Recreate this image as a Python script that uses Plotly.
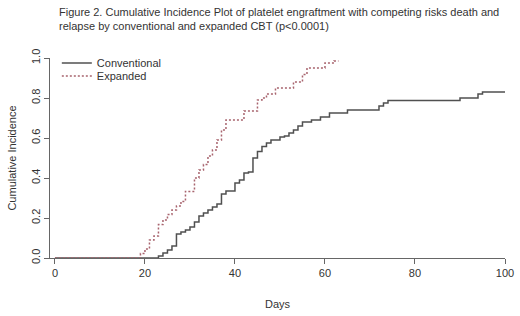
import plotly.graph_objects as go

conv_days = [0, 23, 24, 25, 26, 27, 28, 29, 30, 31, 32, 33, 34, 35, 36, 37, 38, 40, 41, 42, 43, 44, 45, 46, 47, 48, 50, 51, 52, 53, 54, 55, 57, 59, 61, 65, 72, 73, 74, 90, 94, 95, 100]
conv_vals = [0, 0.01, 0.025, 0.04, 0.06, 0.12, 0.13, 0.14, 0.155, 0.18, 0.21, 0.225, 0.24, 0.255, 0.27, 0.32, 0.335, 0.375, 0.39, 0.425, 0.43, 0.5, 0.533, 0.558, 0.575, 0.59, 0.605, 0.61, 0.625, 0.64, 0.66, 0.68, 0.69, 0.705, 0.725, 0.74, 0.76, 0.775, 0.787, 0.80, 0.82, 0.83, 0.83]

exp_days = [0, 19, 20, 21, 22, 23, 24, 25, 26, 27, 28, 29, 31, 32, 33, 34, 35, 36, 37, 38, 42, 45, 46, 47, 49, 53, 55, 56, 60, 62, 63]
exp_vals = [0, 0.022, 0.045, 0.09, 0.11, 0.167, 0.19, 0.217, 0.24, 0.26, 0.283, 0.333, 0.40, 0.44, 0.467, 0.51, 0.54, 0.59, 0.64, 0.69, 0.735, 0.79, 0.80, 0.82, 0.85, 0.88, 0.917, 0.95, 0.975, 0.985, 0.985]

x_ticks = [0, 20, 40, 60, 80, 100]
y_ticks = [0.0, 0.2, 0.4, 0.6, 0.8, 1.0]

title_lines = ["Figure 2. Cumulative Incidence Plot of platelet engraftment with competing risks death and",
               "relapse by conventional and expanded CBT (p<0.0001)"]

fig = go.Figure()
fig.add_trace(go.Scatter(x=conv_days, y=conv_vals, mode="lines", line_shape="hv",
                         name="Conventional", legend="legend",
                         line=dict(color="#505050", width=1.5)))
fig.add_trace(go.Scatter(x=exp_days, y=exp_vals, mode="lines", line_shape="hv",
                         name="Expanded", legend="legend2",
                         line=dict(color="#a8646e", width=1.5, dash="2px,2px")))

font = "Liberation Sans, Arial, sans-serif"
fig.add_annotation(text="<br>".join(title_lines), xref="paper", yref="paper",
                   x=(57 - 50) / 455, y=1 + (58 - 4) / 200, xanchor="left", yanchor="top",
                   align="left", showarrow=False,
                   font=dict(family=font, size=11, color="#333"))

leg_common = dict(xanchor="left", yanchor="middle", bgcolor="rgba(0,0,0,0)",
                  font=dict(size=11, color="#333"), itemwidth=30)
fig.update_layout(
    width=520, height=316,
    margin=dict(l=50, r=15, t=58, b=58, autoexpand=False),
    paper_bgcolor="white", plot_bgcolor="white",
    font=dict(family=font, size=11, color="#333"),
    showlegend=True,
    legend=dict(x=0.015, y=(258 - 63) / 200, **leg_common),
    legend2=dict(x=0.015, y=(258 - 76) / 200, **leg_common),
    xaxis=dict(range=[-1.1, 100], tickvals=x_ticks, ticktext=[str(v) for v in x_ticks],
               showgrid=False, zeroline=False, showline=True, linecolor="#666", linewidth=1,
               ticks="outside", ticklen=5, tickcolor="#666", automargin=False,
               title=dict(text="Days", standoff=22, font=dict(size=11)), tickfont=dict(size=11)),
    yaxis=dict(range=[0, 1.0], tickvals=y_ticks, ticktext=["%.1f" % v for v in y_ticks],
               showgrid=False, zeroline=False, showline=True, linecolor="#666", linewidth=1,
               ticks="outside", ticklen=5, tickcolor="#666", tickangle=-90, automargin=False,
               title=dict(text="Cumulative Incidence", standoff=10, font=dict(size=11)), tickfont=dict(size=11)),
)
fig.write_html("out.html", config={"displayModeBar": False},
               post_script="document.body.style.margin='0';document.body.style.overflow='hidden';")
